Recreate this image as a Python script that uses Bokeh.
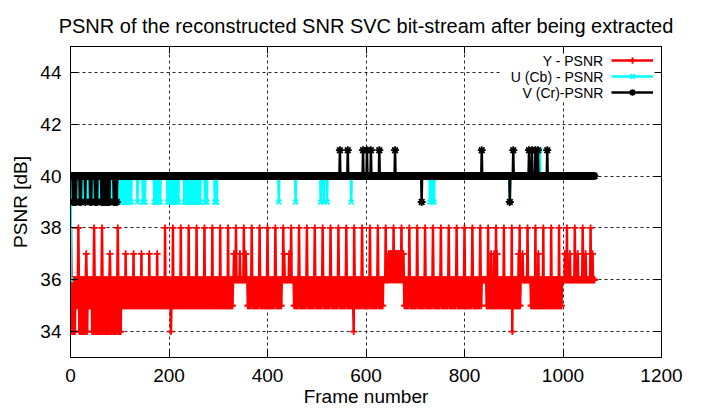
import numpy as np
from bokeh.plotting import figure
from bokeh.models import (Range1d, LinearAxis, FixedTicker, Legend, LegendItem,
                          BoxAnnotation, Label)
from bokeh.embed import file_html
from bokeh.resources import INLINE

# ---------------- data ----------------
N_FRAMES = 1065
X_TICKS = [0, 200, 400, 600, 800, 1000, 1200]
Y_TICKS = [34, 36, 38, 40, 42, 44]

# Y (luma) PSNR: stretches where the value flips densely between a low and a high level
Y_BASE = 36
Y_BAND_START = [0, 11, 15, 35, 43, 104, 331, 359, 430, 453, 636, 646, 677, 836, 844, 914, 934, 998]
Y_BAND_END   = [10, 14, 34, 42, 103, 330, 358, 429, 452, 635, 645, 676, 835, 843, 913, 933, 997, 1064]
Y_BAND_LOW   = [34, 35, 34, 35, 34, 35, 36, 35, 36, 35, 36, 36, 35, 36, 35, 36, 35, 36]
Y_BAND_HIGH  = [36, 36, 36, 36, 36, 36, 36, 36, 36, 36, 36, 37, 36, 36, 36, 36, 36, 36]
Y_PEAK_38 = [1, 16, 48, 64, 96, 192, 208, 224, 240, 256, 272, 288, 304, 320, 336, 352,
             368, 384, 400, 416, 432, 448, 464, 480, 496, 512, 528, 544, 560, 576, 592,
             608, 624, 640, 656, 672, 688, 704, 720, 736, 752, 768, 784, 800, 816, 832,
             848, 864, 880, 896, 912, 928, 944, 960, 976, 992, 1008, 1024, 1040, 1056]
Y_PEAK_37 = [32, 80, 112, 128, 144, 160, 176, 332, 344, 356, 434, 444,
             854, 860, 866, 910, 918, 950, 1004, 1014, 1030, 1046, 1060]
Y_DIP_34 = [204, 575, 897]
Y_FIRST = 35

# U (Cb) PSNR
U_BASE = 40
U_BAND_START = [2, 98, 135, 146, 169, 196, 230, 272, 292]
U_BAND_END   = [94, 124, 137, 151, 182, 219, 264, 277, 298]
U_DIP_39 = [423, 457, 508, 514, 521, 570, 730, 734, 738, 892]
U_PEAK_41 = [953]
U_FIRST = 36

# V (Cr) PSNR
V_BASE = 40
V_BAND_START = [4, 18, 29, 39, 49, 62, 87]
V_BAND_END   = [12, 22, 30, 43, 54, 80, 94]
V_DIP_39 = [713, 892]
V_PEAK_41 = [547, 563, 594, 602, 610, 627, 659, 835, 899, 931, 937, 944, 949, 968]


def build(base, starts, ends, lows, highs, sets):
    v = np.full(N_FRAMES, float(base))
    for s, e, lo, hi in zip(starts, ends, lows, highs):
        for i in range(s, e + 1):
            v[i] = hi if (i - s) % 2 == 0 else lo
    for frames, val in sets:
        for f in frames:
            v[f] = val
    return v


frames = np.arange(N_FRAMES)
y_psnr = build(Y_BASE, Y_BAND_START, Y_BAND_END, Y_BAND_LOW, Y_BAND_HIGH,
               [(Y_PEAK_38, 38), (Y_PEAK_37, 37), (Y_DIP_34, 34), ([0], Y_FIRST)])
u_psnr = build(U_BASE, U_BAND_START, U_BAND_END, [39] * len(U_BAND_START),
               [40] * len(U_BAND_START),
               [(U_DIP_39, 39), (U_PEAK_41, 41), ([0], U_FIRST)])
v_psnr = build(V_BASE, V_BAND_START, V_BAND_END, [39] * len(V_BAND_START),
               [40] * len(V_BAND_START),
               [(V_DIP_39, 39), (V_PEAK_41, 41)])

FONT = "Liberation Sans"

p = figure(width=703, height=409, x_range=Range1d(0, 1200), y_range=Range1d(33, 45),
           output_backend="svg", toolbar_location=None,
           min_border_left=70, min_border_right=42, min_border_top=46, min_border_bottom=51,
           title="PSNR of the reconstructed SNR SVC bit-stream after being extracted")
p.title.align = "center"
p.title.text_font = FONT
p.title.text_font_size = "20px"
p.title.text_font_style = "normal"
p.title.text_color = "black"
p.title.standoff = 20

p.background_fill_color = "white"
p.border_fill_color = "white"
p.outline_line_color = "black"
p.outline_line_width = 1
p.outline_line_alpha = 1

# main axes
for ax, ticks in ((p.xaxis[0], X_TICKS), (p.yaxis[0], Y_TICKS)):
    ax.ticker = FixedTicker(ticks=ticks)
    ax.major_tick_in = 7
    ax.major_tick_out = 0
    ax.minor_tick_in = 0
    ax.minor_tick_out = 0
    ax.axis_line_color = "black"
    ax.major_tick_line_color = "black"
    ax.major_label_text_font = FONT
    ax.major_label_text_font_size = "19px"
    ax.major_label_text_color = "black"
    ax.axis_label_text_font = FONT
    ax.axis_label_text_font_size = "19px"
    ax.axis_label_text_font_style = "normal"
    ax.axis_label_text_color = "black"
p.xaxis[0].axis_label = "Frame number"
p.yaxis[0].axis_label = "PSNR [dB]"
p.xaxis[0].major_label_standoff = 11
p.xaxis[0].axis_label_standoff = 1
p.yaxis[0].major_label_standoff = 9
p.yaxis[0].axis_label_standoff = 6

# mirror ticks
for loc, ticks in (("right", Y_TICKS), ("above", X_TICKS)):
    ax = LinearAxis(ticker=FixedTicker(ticks=ticks), major_tick_in=7, major_tick_out=0,
                    minor_tick_in=0, minor_tick_out=0, major_label_text_font_size="1px",
                    major_label_overrides={t: "" for t in ticks},
                    major_label_standoff=0, axis_line_color="black",
                    major_tick_line_color="black")
    p.add_layout(ax, loc)

p.xgrid.ticker = FixedTicker(ticks=X_TICKS[1:-1])
p.ygrid.ticker = FixedTicker(ticks=Y_TICKS)
p.grid.grid_line_color = "black"
p.grid.grid_line_alpha = 0.85
p.grid.grid_line_dash = "3 3"
p.grid.grid_line_width = 1

# white legend background (covers grid only)
box = BoxAnnotation(left=873, right=1198, top=44.97, bottom=42.88, fill_color="white",
                    fill_alpha=1, line_alpha=0, level="underlay")
p.add_layout(box)

series = [
    (y_psnr, "#ff0000", "cross", 7, "Y - PSNR"),
    (u_psnr, "#00ffff", "x", 7, "U (Cb) - PSNR"),
    (v_psnr, "#000000", "asterisk", 8, "V (Cr)-PSNR"),
]
items = []
label_y = [44.45, 43.83, 43.22]
for (vals, col, mk, sz, name), ly in zip(series, label_y):
    lr = p.line(frames, vals, line_color=col, line_width=2.5)
    sr = p.scatter(frames, vals, marker=mk, size=sz, line_color=col, line_width=1.8)
    items.append(LegendItem(label=" ", renderers=[lr, sr]))
    p.add_layout(Label(x=1082, y=ly, text=name, text_align="right", text_baseline="middle",
                       text_font=FONT, text_font_size="14px", text_color="black"))

legend = Legend(items=items, location="top_right", label_width=0, glyph_width=42,
                glyph_height=16, label_height=16, spacing=0, padding=4, margin=2,
                border_line_alpha=0, background_fill_alpha=0, label_standoff=2,
                label_text_font_size="8px")
p.add_layout(legend)

open("out.html", "w").write(file_html(p, INLINE))
